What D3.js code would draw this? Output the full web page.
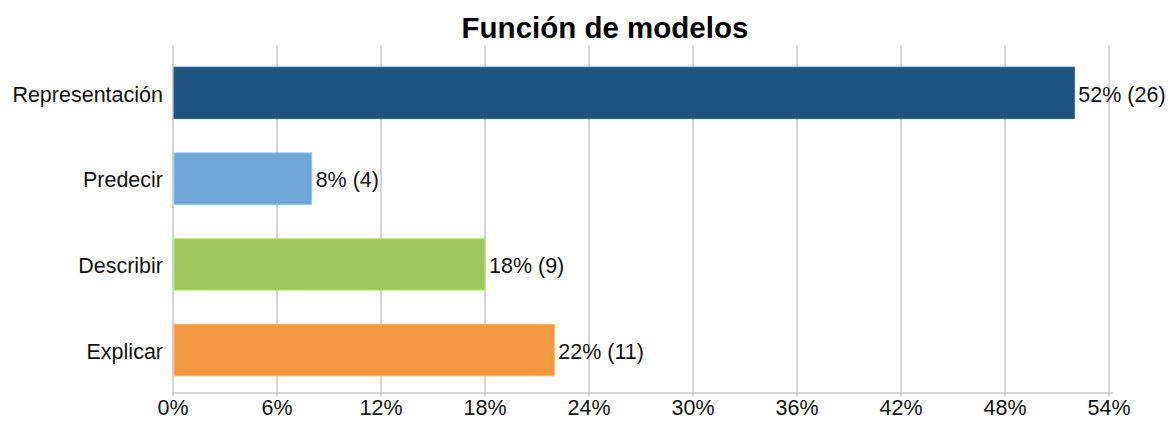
<!DOCTYPE html>
<html>
<head>
<meta charset="utf-8">
<script src="https://cdn.jsdelivr.net/npm/d3@7"></script>
<style>
  body { margin: 0; background: #fff; }
  text { font-family: "Liberation Sans", Arial, Helvetica, sans-serif; fill: #111; }
</style>
</head>
<body>
<svg id="chart" width="1168" height="421"></svg>
<script>
const categories = ['Representación', 'Predecir', 'Describir', 'Explicar'];
const percents = [52, 8, 18, 22];
const counts = [26, 4, 9, 11];
const colors = ['#1d5480', '#6fa6d6', '#9cc65b', '#f39843'];
const ticks = [0, 6, 12, 18, 24, 30, 36, 42, 48, 54];

const svg = d3.select('#chart');
const plotLeft = 173, plotRight = 1109, plotTop = 50, plotBottom = 393;
const fontSize = 21.5;

const x = d3.scaleLinear().domain([0, 54]).range([plotLeft, plotRight]);
const y = d3.scaleBand().domain(categories).range([plotTop, plotBottom]).paddingInner(0.4).paddingOuter(0.2);

svg.append('text')
  .attr('x', 605).attr('y', 38)
  .attr('text-anchor', 'middle')
  .attr('font-size', 29.5).attr('font-weight', 'bold')
  .style('fill', '#000')
  .text('Función de modelos');

// grid lines
svg.append('g').selectAll('line')
  .data(ticks)
  .join('line')
  .attr('x1', d => x(d)).attr('x2', d => x(d))
  .attr('y1', plotTop - 4).attr('y2', plotBottom + 3)
  .attr('stroke', '#c6c6c6').attr('stroke-width', 1.5);

// bottom axis line
svg.append('line')
  .attr('x1', plotLeft).attr('x2', plotRight + 4)
  .attr('y1', plotBottom).attr('y2', plotBottom)
  .attr('stroke', '#c6c6c6').attr('stroke-width', 1.5);

svg.append('g').selectAll('text')
  .data(ticks)
  .join('text')
  .attr('x', d => x(d)).attr('y', plotBottom + 22)
  .attr('text-anchor', 'middle')
  .attr('font-size', fontSize)
  .text(d => d + '%');

// bars
svg.append('g').selectAll('rect')
  .data(categories)
  .join('rect')
  .attr('x', x(0) + 1)
  .attr('y', d => y(d))
  .attr('width', (d, i) => x(percents[i]) - x(0) - 1)
  .attr('height', y.bandwidth())
  .attr('fill', (d, i) => colors[i])
  .attr('stroke', (d, i) => d3.color(colors[i]).brighter(0.5))
  .attr('stroke-width', 1);

// value labels
svg.append('g').selectAll('text')
  .data(categories)
  .join('text')
  .attr('x', (d, i) => x(percents[i]) + 4)
  .attr('y', d => y(d) + y.bandwidth() / 2 + 1)
  .attr('dy', '0.36em')
  .attr('font-size', fontSize)
  .text((d, i) => `${percents[i]}% (${counts[i]})`);

// category labels
svg.append('g').selectAll('text')
  .data(categories)
  .join('text')
  .attr('x', plotLeft - 10)
  .attr('y', d => y(d) + y.bandwidth() / 2 + 1)
  .attr('dy', '0.36em')
  .attr('text-anchor', 'end')
  .attr('font-size', fontSize)
  .text(d => d);
</script>
</body>
</html>
